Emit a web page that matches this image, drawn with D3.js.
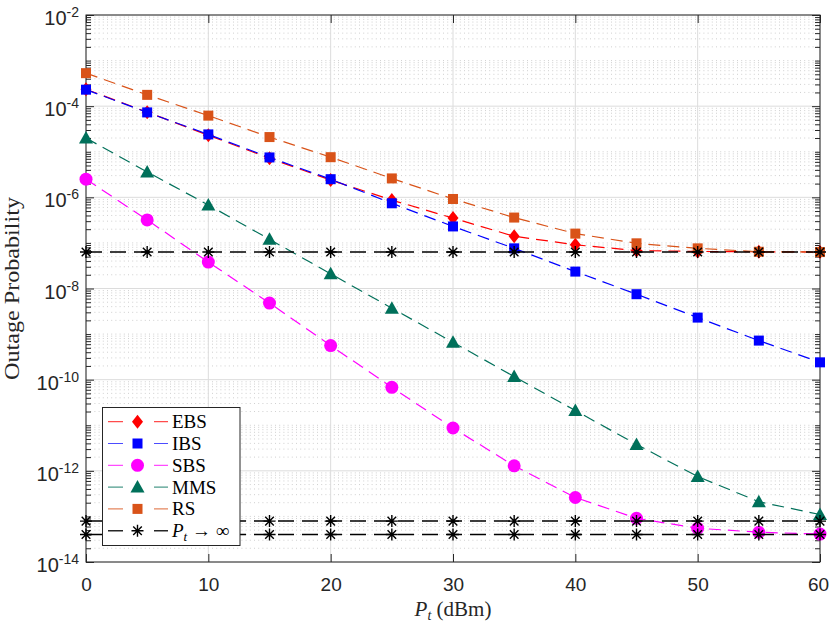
<!DOCTYPE html>
<html>
<head>
<meta charset="utf-8">
<script src="https://cdn.jsdelivr.net/npm/d3@7"></script>
<style>
  body { margin: 0; background: #fff; }
</style>
</head>
<body>
<div id="chart"></div>
<script>
// transmit power values (dBm)
const powers = [0, 5, 10, 15, 20, 25, 30, 35, 40, 45, 50, 55, 60];

// outage probability per scheme
const ebs = [2.35e-4, 7.4e-5, 2.3e-5, 7.2e-6, 2.4e-6, 8.7e-7, 3.5e-7, 1.4e-7, 9.1e-8, 6.8e-8, 6.5e-8, 6.4e-8, 6.3e-8];
const ibs = [2.3e-4, 7.3e-5, 2.4e-5, 7.5e-6, 2.5e-6, 7.4e-7, 2.3e-7, 7.6e-8, 2.35e-8, 7.5e-9, 2.3e-9, 7.2e-10, 2.4e-10];
const sbs = [2.5e-6, 3.2e-7, 3.8e-8, 4.8e-9, 5.6e-10, 6.8e-11, 8.7e-12, 1.29e-12, 2.6e-13, 9.1e-14, 5.5e-14, 4.5e-14, 4.1e-14];
const mms = [2.0e-5, 3.6e-6, 6.8e-7, 1.2e-7, 2.1e-8, 3.7e-9, 6.6e-10, 1.17e-10, 2.1e-11, 3.8e-12, 7.5e-13, 2.1e-13, 1.1e-13];
const rs  = [5.3e-4, 1.77e-4, 6.2e-5, 2.1e-5, 7.6e-6, 2.6e-6, 9.2e-7, 3.6e-7, 1.6e-7, 9.8e-8, 7.6e-8, 6.4e-8, 6.3e-8];

// high-power floors (Pt -> infinity)
const floors = [6.3e-8, 7.9e-14, 4.0e-14];

// ticks
const xTicks = [0, 10, 20, 30, 40, 50, 60];
const yExponents = [-2, -4, -6, -8, -10, -12, -14];

const series = [
  { name: "EBS", values: ebs, color: "#ff0000", marker: "diamond" },
  { name: "IBS", values: ibs, color: "#0000ff", marker: "square" },
  { name: "SBS", values: sbs, color: "#ff00ff", marker: "circle" },
  { name: "MMS", values: mms, color: "#00705a", marker: "triangle" },
  { name: "RS",  values: rs,  color: "#d95319", marker: "square" }
];

const W = 830, H = 623;
const pLeft = 86, pRight = 820, pTop = 15, pBottom = 562;
const axisColor = "#262626";
const serif = "'Liberation Serif', 'DejaVu Serif', serif";
const sans = "'Liberation Sans', Arial, sans-serif";

const svg = d3.select("#chart")
  .append("svg")
  .attr("width", W)
  .attr("height", H)
  .style("font-family", sans);

const x = d3.scaleLinear().domain([0, 60]).range([pLeft, pRight]);
const y = d3.scaleLog().domain([1e-14, 1e-2]).range([pBottom, pTop]);

const yMajor = yExponents.map(e => Math.pow(10, e));
const yMinor = [];
for (let e = -14; e < -2; e++) {
  for (let k = 1; k <= 9; k++) {
    if (k === 1 && e % 2 === 0) continue;
    yMinor.push(k * Math.pow(10, e));
  }
}

// ---- grid
const grid = svg.append("g");
grid.selectAll(".minor")
  .data(yMinor)
  .enter().append("line")
  .attr("x1", pLeft).attr("x2", pRight)
  .attr("y1", d => y(d)).attr("y2", d => y(d))
  .attr("stroke", "#c4c4c4")
  .attr("stroke-width", 0.8)
  .attr("stroke-dasharray", "1,3.2");

grid.selectAll(".vmaj")
  .data(xTicks)
  .enter().append("line")
  .attr("x1", d => x(d)).attr("x2", d => x(d))
  .attr("y1", pTop).attr("y2", pBottom)
  .attr("stroke", "#dcdcdc")
  .attr("stroke-width", 1);

grid.selectAll(".hmaj")
  .data(yMajor)
  .enter().append("line")
  .attr("x1", pLeft).attr("x2", pRight)
  .attr("y1", d => y(d)).attr("y2", d => y(d))
  .attr("stroke", "#dcdcdc")
  .attr("stroke-width", 1);

// ---- axes (ticks inward)
function styleAxis(g) {
  g.select(".domain").remove();
  g.selectAll("line").attr("stroke", axisColor);
}

svg.append("g")
  .attr("transform", `translate(0,${pBottom})`)
  .call(d3.axisBottom(x).tickValues(xTicks).tickSize(-8).tickSizeOuter(0))
  .call(styleAxis)
  .call(g => g.selectAll("text")
    .attr("y", 29).attr("dy", null)
    .attr("dx", d => d === 60 ? -2 : null)
    .attr("font-size", 19)
    .attr("fill", axisColor)
    .attr("font-family", sans));

svg.append("g")
  .attr("transform", `translate(0,${pTop})`)
  .call(d3.axisTop(x).tickValues(xTicks).tickSize(-8).tickFormat("").tickSizeOuter(0))
  .call(styleAxis);

svg.append("g")
  .attr("transform", `translate(${pLeft},0)`)
  .call(d3.axisLeft(y).tickValues(yMajor).tickSize(-8).tickFormat("").tickSizeOuter(0))
  .call(styleAxis);
svg.append("g")
  .attr("transform", `translate(${pLeft},0)`)
  .call(d3.axisLeft(y).tickValues(yMinor).tickSize(-5).tickFormat("").tickSizeOuter(0))
  .call(styleAxis);
svg.append("g")
  .attr("transform", `translate(${pRight},0)`)
  .call(d3.axisRight(y).tickValues(yMajor).tickSize(-8).tickFormat("").tickSizeOuter(0))
  .call(styleAxis);
svg.append("g")
  .attr("transform", `translate(${pRight},0)`)
  .call(d3.axisRight(y).tickValues(yMinor).tickSize(-5).tickFormat("").tickSizeOuter(0))
  .call(styleAxis);

// y tick labels 10^n
const yLab = svg.append("g").attr("fill", axisColor);
yExponents.forEach(e => {
  const t = yLab.append("text")
    .attr("x", 79)
    .attr("y", y(Math.pow(10, e)) + 10)
    .attr("text-anchor", "end")
    .attr("font-size", 20);
  t.append("tspan").text("10");
  t.append("tspan").attr("font-size", 14).attr("dy", -8).text(e);
});

// box
svg.append("rect")
  .attr("x", pLeft).attr("y", pTop)
  .attr("width", pRight - pLeft).attr("height", pBottom - pTop)
  .attr("fill", "none")
  .attr("stroke", axisColor)
  .attr("stroke-width", 1);

// ---- markers
function drawMarker(g, type, color, size) {
  const s = size || 1;
  if (type === "diamond") {
    g.append("path").attr("d", `M0,${-7 * s}L${5.5 * s},0L0,${7 * s}L${-5.5 * s},0Z`).attr("fill", color);
  } else if (type === "square") {
    g.append("rect").attr("x", -5 * s).attr("y", -5 * s).attr("width", 10 * s).attr("height", 10 * s).attr("fill", color);
  } else if (type === "circle") {
    g.append("circle").attr("r", 6.5 * s).attr("fill", color);
  } else if (type === "triangle") {
    g.append("path").attr("d", `M0,${-7 * s}L${7 * s},${5.5 * s}L${-7 * s},${5.5 * s}Z`).attr("fill", color);
  } else if (type === "asterisk") {
    const a = 6 * s, b = 4.3 * s;
    g.append("path")
      .attr("d", `M${-a},0H${a}M0,${-a}V${a}M${-b},${-b}L${b},${b}M${-b},${b}L${b},${-b}`)
      .attr("stroke", "#000").attr("stroke-width", 1.4).attr("fill", "none");
  }
}

const line = d3.line()
  .x(d => x(d[0]))
  .y(d => y(d[1]));

const plot = svg.append("g");

series.forEach(s => {
  const pts = powers.map((p, i) => [p, s.values[i]]);
  plot.append("path")
    .datum(pts)
    .attr("d", line)
    .attr("fill", "none")
    .attr("stroke", s.color)
    .attr("stroke-width", 1.2)
    .attr("stroke-dasharray", "12,7");
  pts.forEach(d => {
    const g = plot.append("g").attr("transform", `translate(${x(d[0])},${y(d[1])})`);
    drawMarker(g, s.marker, s.color);
  });
});

floors.forEach(level => {
  const pts = powers.map(p => [p, level]);
  plot.append("path")
    .datum(pts)
    .attr("d", line)
    .attr("fill", "none")
    .attr("stroke", "#000")
    .attr("stroke-width", 1.5)
    .attr("stroke-dasharray", "16,8");
  pts.forEach(d => {
    const g = plot.append("g").attr("transform", `translate(${x(d[0])},${y(d[1])})`);
    drawMarker(g, "asterisk", "#000");
  });
});

// ---- legend
const legend = svg.append("g");
legend.append("rect")
  .attr("x", 102.5).attr("y", 407.5)
  .attr("width", 137.5).attr("height", 138)
  .attr("fill", "#fff")
  .attr("stroke", axisColor)
  .attr("stroke-width", 1);

const legendItems = series.map(s => ({ name: s.name, color: s.color, marker: s.marker, width: 1.2 }))
  .concat([{ name: "Pinf", color: "#000", marker: "asterisk", width: 1.5 }]);

legendItems.forEach((it, i) => {
  const cy = 421.7 + i * 21.8;
  legend.append("line")
    .attr("x1", 108).attr("x2", 168)
    .attr("y1", cy).attr("y2", cy)
    .attr("stroke", it.color)
    .attr("stroke-width", it.width)
    .attr("stroke-opacity", it.marker === "asterisk" ? 0.85 : 0.7)
    .attr("stroke-dasharray", "15,31,14");
  const g = legend.append("g").attr("transform", `translate(137.5,${cy})`);
  drawMarker(g, it.marker, it.color, 1);
  const t = legend.append("text")
    .attr("x", 172).attr("y", cy + 6.5)
    .attr("font-family", serif)
    .attr("font-size", 19)
    .attr("fill", "#000");
  if (it.name === "Pinf") {
    t.append("tspan").attr("font-style", "italic").text("P");
    t.append("tspan").attr("font-style", "italic").attr("font-size", 13).attr("dy", 4).text("t");
    t.append("tspan").attr("dy", -4).text(" \u2192 \u221E");
  } else {
    t.text(it.name);
  }
});

// ---- axis titles
svg.append("text")
  .attr("transform", "translate(18.5,288.5) rotate(-90)")
  .attr("text-anchor", "middle")
  .attr("font-family", serif)
  .attr("font-size", 22)
  .attr("textLength", 183)
  .attr("lengthAdjust", "spacingAndGlyphs")
  .attr("fill", axisColor)
  .text("Outage Probability");

const xt = svg.append("text")
  .attr("x", 453).attr("y", 616)
  .attr("text-anchor", "middle")
  .attr("font-family", serif)
  .attr("font-size", 21)
  .attr("fill", axisColor);
xt.append("tspan").attr("font-style", "italic").text("P");
xt.append("tspan").attr("font-style", "italic").attr("font-size", 14).attr("dy", 4).text("t");
xt.append("tspan").attr("dy", -4).text(" (dBm)");
</script>
</body>
</html>
